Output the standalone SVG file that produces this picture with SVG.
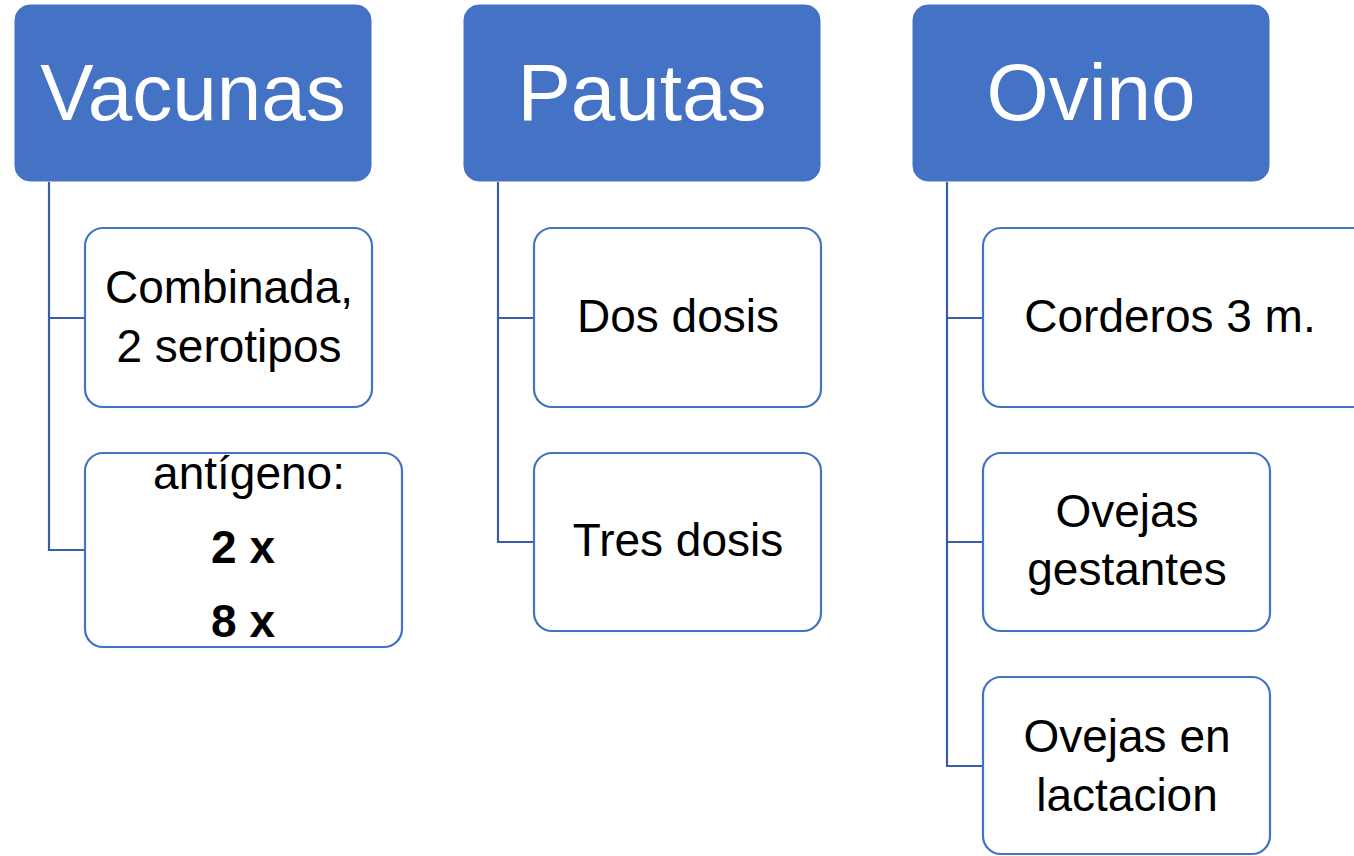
<svg xmlns="http://www.w3.org/2000/svg" width="1354" height="856" viewBox="0 0 1354 856">
<style>
.hdr{fill:#4472C4;stroke:#4472C4;stroke-width:1}
.box{fill:#FFFFFF;stroke:#4472C4;stroke-width:2.2}
.ht{font-family:"Liberation Sans",Arial,sans-serif;font-size:80px;fill:#FFFFFF;text-anchor:middle}
.ct{font-family:"Liberation Sans",Arial,sans-serif;font-size:46px;fill:#000000;text-anchor:middle}
.b{font-weight:bold}
.con{fill:none;stroke:#3A5DA8;stroke-width:2.2}
</style>
<rect width="1354" height="856" fill="#FFFFFF"/>
<g id="connectors">
<path class="con" d="M49,182 V550 H85 M49,318 H85"/>
<path class="con" d="M498,182 V542 H534 M498,318 H534"/>
<path class="con" d="M947,182 V766 H983 M947,542 H983 M947,318 H983"/>
</g>
<g id="vacunas">
<rect class="hdr" x="15" y="5" width="356" height="176" rx="15"/>
<text class="ht" x="193" y="120">Vacunas</text>
</g>
<g id="pautas">
<rect class="hdr" x="464" y="5" width="356" height="176" rx="15"/>
<text class="ht" x="642" y="120">Pautas</text>
</g>
<g id="ovino">
<rect class="hdr" x="913" y="5" width="356" height="176" rx="15"/>
<text class="ht" x="1091" y="120">Ovino</text>
</g>
<g id="combinada">
<rect class="box" x="85" y="228" width="287" height="179" rx="18"/>
<text class="ct" x="229" y="303">Combinada,</text>
<text class="ct" x="229" y="362">2 serotipos</text>
</g>
<g id="antigeno">
<rect class="box" x="85" y="453" width="317" height="194" rx="18"/>
<text class="ct" x="249" y="489">antígeno:</text>
<text class="ct b" x="243" y="563">2 x</text>
<text class="ct b" x="243" y="637">8 x</text>
</g>
<g id="dos-dosis">
<rect class="box" x="534" y="228" width="287" height="179" rx="18"/>
<text class="ct" x="678" y="332">Dos dosis</text>
</g>
<g id="tres-dosis">
<rect class="box" x="534" y="453" width="287" height="178" rx="18"/>
<text class="ct" x="678" y="556">Tres dosis</text>
</g>
<g id="corderos">
<rect class="box" x="983" y="228" width="390" height="179" rx="18"/>
<text class="ct" x="1170" y="332">Corderos 3 m.</text>
</g>
<g id="gestantes">
<rect class="box" x="983" y="453" width="287" height="178" rx="18"/>
<text class="ct" x="1127" y="527">Ovejas</text>
<text class="ct" x="1127" y="585">gestantes</text>
</g>
<g id="lactacion">
<rect class="box" x="983" y="677" width="287" height="177" rx="18"/>
<text class="ct" x="1127" y="752">Ovejas en</text>
<text class="ct" x="1127" y="811">lactacion</text>
</g>
</svg>
